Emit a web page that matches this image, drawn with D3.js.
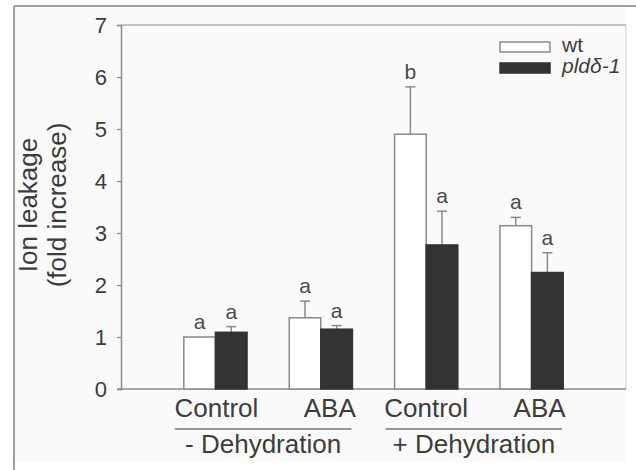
<!DOCTYPE html>
<html>
<head>
<meta charset="utf-8">
<script src="https://cdn.jsdelivr.net/npm/d3@7"></script>
<style>
  body { margin: 0; background: #fff; }
  svg { display: block; font-family: "Liberation Sans", Arial, sans-serif; }
</style>
</head>
<body>
<svg id="chart" width="636" height="470"></svg>
<script>
// ---------------- data ----------------
const categories = ['ctrlMinus', 'abaMinus', 'ctrlPlus', 'abaPlus'];
const categoryLabels = ['Control', 'ABA', 'Control', 'ABA'];
const groups = [
    { label: '- Dehydration', members: ['ctrlMinus', 'abaMinus'] },
    { label: '+ Dehydration', members: ['ctrlPlus', 'abaPlus'] }
];
const seriesNames = ['wt', 'pld'];
const wtValues = [1.0, 1.37, 4.9, 3.14];
const wtErrors = [0, 0.32, 0.91, 0.16];
const wtLetters = ['a', 'a', 'b', 'a'];
const pldValues = [1.09, 1.15, 2.77, 2.24];
const pldErrors = [0.11, 0.07, 0.65, 0.38];
const pldLetters = ['a', 'a', 'a', 'a'];
const yTicks = [0, 1, 2, 3, 4, 5, 6, 7];

// ---------------- layout ----------------
const svg = d3.select('#chart');
const plotLeft = 121, plotRight = 626, plotTop = 25, plotBottom = 389;
const grey = '#8a8a8a', textCol = '#3c3c3c', dark = '#333333';
const labelShift = [1, 9, 0, 8];   // category labels sit a bit off-centre in the original

// page background + frame
svg.append('rect').attr('x', 14).attr('y', 6).attr('width', 612).attr('height', 456).attr('fill', '#fafafa');
svg.append('line').attr('x1', 14).attr('y1', 6).attr('x2', 636).attr('y2', 6).attr('stroke', '#a0a0a0').attr('stroke-width', 2);
svg.append('line').attr('x1', 14).attr('y1', 6).attr('x2', 14).attr('y2', 470).attr('stroke', '#a0a0a0').attr('stroke-width', 2);

const y = d3.scaleLinear().domain([0, 7]).range([plotBottom, plotTop]);
const x0 = d3.scaleBand().domain(categories).range([plotLeft, plotRight])
    .paddingInner(0.4).paddingOuter(0.596);
const x1 = d3.scaleBand().domain(seriesNames).range([0, x0.bandwidth()]);

// plot box top and right
svg.append('line').attr('x1', plotLeft).attr('y1', plotTop).attr('x2', plotRight).attr('y2', plotTop)
    .attr('stroke', grey).attr('stroke-width', 1.2);
svg.append('line').attr('x1', plotRight).attr('y1', plotTop).attr('x2', plotRight).attr('y2', plotBottom)
    .attr('stroke', '#d0d0d0').attr('stroke-width', 1);

// y axis
const yAxis = svg.append('g').attr('transform', 'translate(' + plotLeft + ',0)')
    .call(d3.axisLeft(y).tickValues(yTicks).tickSize(4).tickPadding(10).tickFormat(d3.format('d')));
yAxis.select('.domain').attr('stroke', grey).attr('stroke-width', 1.5);
yAxis.selectAll('.tick line').attr('stroke', grey).attr('stroke-width', 1.2);
yAxis.selectAll('.tick text').attr('fill', textCol).style('font-size', '22px')
    .style('font-family', '"Liberation Sans", Arial, sans-serif');

// x axis line
svg.append('line').attr('x1', plotLeft - 4).attr('y1', plotBottom).attr('x2', plotRight).attr('y2', plotBottom)
    .attr('stroke', grey).attr('stroke-width', 1.5);

// bars
const rows = categories.map((c, i) => ({
    cat: c,
    bars: [
        { s: 'wt', v: wtValues[i], e: wtErrors[i], l: wtLetters[i] },
        { s: 'pld', v: pldValues[i], e: pldErrors[i], l: pldLetters[i] }
    ]
}));

const cat = svg.append('g').selectAll('g').data(rows).join('g')
    .attr('transform', d => 'translate(' + x0(d.cat) + ',0)');

const bar = cat.selectAll('g').data(d => d.bars).join('g');

// error bars (upper only)
bar.filter(d => d.e > 0).append('line')
    .attr('x1', d => x1(d.s) + x1.bandwidth() / 2)
    .attr('x2', d => x1(d.s) + x1.bandwidth() / 2)
    .attr('y1', d => y(d.v))
    .attr('y2', d => y(d.v + d.e))
    .attr('stroke', grey).attr('stroke-width', 1.5);
bar.filter(d => d.e > 0).append('line')
    .attr('x1', d => x1(d.s) + x1.bandwidth() / 2 - 5)
    .attr('x2', d => x1(d.s) + x1.bandwidth() / 2 + 5)
    .attr('y1', d => y(d.v + d.e))
    .attr('y2', d => y(d.v + d.e))
    .attr('stroke', grey).attr('stroke-width', 1.5);

bar.append('rect')
    .attr('x', d => x1(d.s))
    .attr('y', d => y(d.v))
    .attr('width', x1.bandwidth())
    .attr('height', d => y(0) - y(d.v))
    .attr('fill', d => d.s === 'wt' ? '#ffffff' : dark)
    .attr('stroke', d => d.s === 'wt' ? grey : dark)
    .attr('stroke-width', 1.5);

// significance letters
bar.append('text')
    .attr('x', d => x1(d.s) + x1.bandwidth() / 2)
    .attr('y', d => y(d.v + d.e) - 8)
    .attr('text-anchor', 'middle')
    .attr('fill', '#4a4a4a')
    .style('font-size', '21px')
    .text(d => d.l);

// category labels
svg.append('g').selectAll('text').data(categories).join('text')
    .attr('x', (d, i) => x0(d) + x0.bandwidth() / 2 + labelShift[i])
    .attr('y', 417)
    .attr('text-anchor', 'middle')
    .attr('fill', textCol)
    .style('font-size', '26px')
    .text((d, i) => categoryLabels[i]);

// group underlines and labels
groups.forEach(g => {
    const gx0 = x0(g.members[0]) - 9;
    const gx1 = x0(g.members[1]) + x0.bandwidth() - 1;
    svg.append('line').attr('x1', gx0).attr('x2', gx1).attr('y1', 429).attr('y2', 429)
        .attr('stroke', '#777').attr('stroke-width', 1.5);
    svg.append('text')
        .attr('x', (gx0 + gx1) / 2)
        .attr('y', 453)
        .attr('text-anchor', 'middle')
        .attr('fill', textCol)
        .style('font-size', '26px')
        .text(g.label);
});

// y label
const yLab = svg.append('text')
    .attr('transform', 'translate(37,205) rotate(-90)')
    .attr('text-anchor', 'middle')
    .attr('fill', textCol)
    .style('font-size', '26px');
yLab.append('tspan').attr('x', 0).attr('y', 0).text('Ion leakage');
yLab.append('tspan').attr('x', 0).attr('y', 29).text('(fold increase)');

// legend
const legend = svg.append('g').attr('transform', 'translate(500,42)');
legend.append('rect').attr('x', 0).attr('y', 0).attr('width', 50).attr('height', 10)
    .attr('fill', '#fff').attr('stroke', grey).attr('stroke-width', 1.5);
legend.append('rect').attr('x', 0).attr('y', 21).attr('width', 50).attr('height', 10)
    .attr('fill', dark).attr('stroke', dark).attr('stroke-width', 1.5);
legend.append('text').attr('x', 62).attr('y', 10).attr('fill', textCol)
    .style('font-size', '21px').text('wt');
legend.append('text').attr('x', 62).attr('y', 31).attr('fill', textCol)
    .style('font-size', '21px').style('font-style', 'italic').text('pldδ-1');
</script>
</body>
</html>
